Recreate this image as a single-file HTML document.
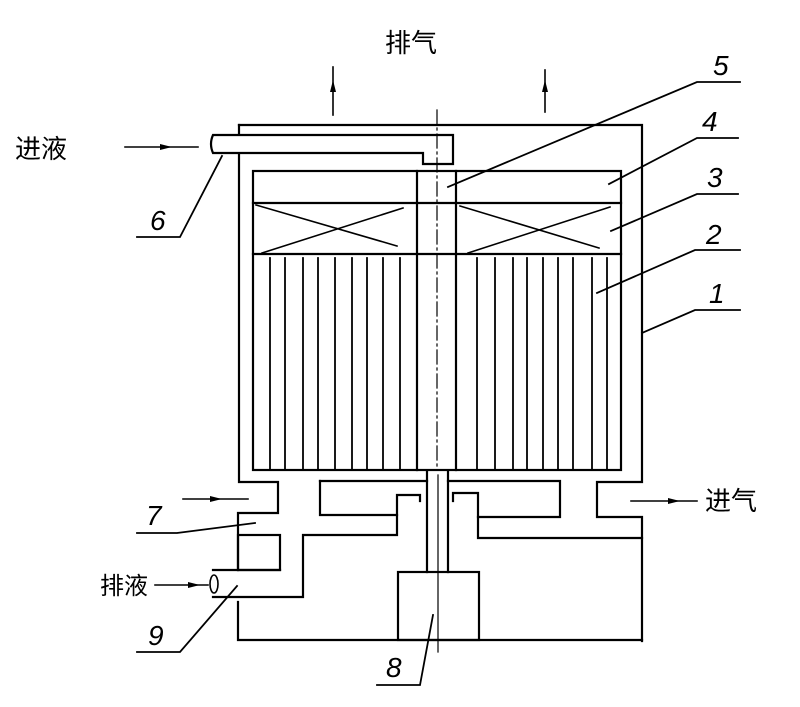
<!DOCTYPE html>
<html><head><meta charset="utf-8"><style>
html,body{margin:0;padding:0;background:#fff;width:800px;height:707px;overflow:hidden}
svg{display:block}
text{font-family:"Liberation Sans","Noto Sans CJK SC",sans-serif;fill:#000}
</style></head><body>
<svg width="800" height="707" viewBox="0 0 800 707" xmlns="http://www.w3.org/2000/svg">
<g stroke="#000" stroke-width="2.2" fill="none" stroke-linecap="square">
<!-- outer housing upper -->
<polyline points="239,125 642,125 642,482 597,482 597,517 642,517 642,641"/>
<polyline points="239,125 239,134"/>
<polyline points="239,155 239,482 278,482 278,513 238,513 238,570"/>
<rect x="238" y="535" width="42" height="35"/>
<polyline points="213,570 280,570"/>
<polyline points="238,602 238,640 642,640"/>
<!-- pipe 6 -->
<path d="M213,135 L453,135 L453,164 L423,164 L423,153 L213,153 Q209,144 213,135 Z"/>
<!-- inner box -->
<rect x="253" y="171" width="368" height="299"/>
<line x1="253" y1="203" x2="621" y2="203"/>
<line x1="253" y1="254" x2="621" y2="254"/>
<line x1="417" y1="171" x2="417" y2="470"/>
<line x1="456" y1="171" x2="456" y2="470"/>
<!-- X's -->
<g stroke-width="1.6">
<line x1="256" y1="205" x2="397" y2="246"/><line x1="262" y1="253" x2="403" y2="208"/>
<line x1="460" y1="206" x2="599" y2="248"/><line x1="468" y1="253" x2="610" y2="207"/>
</g>
<!-- fins -->
<g stroke-width="1.8">
<line x1="270" y1="258" x2="270" y2="470"/><line x1="285" y1="258" x2="285" y2="470"/>
<line x1="303" y1="258" x2="303" y2="470"/><line x1="318" y1="258" x2="318" y2="470"/>
<line x1="335" y1="258" x2="335" y2="470"/><line x1="352" y1="258" x2="352" y2="470"/>
<line x1="367" y1="258" x2="367" y2="470"/><line x1="383" y1="258" x2="383" y2="470"/>
<line x1="400" y1="258" x2="400" y2="470"/>
<line x1="477" y1="258" x2="477" y2="470"/><line x1="495" y1="258" x2="495" y2="470"/>
<line x1="513" y1="258" x2="513" y2="470"/><line x1="527" y1="258" x2="527" y2="470"/>
<line x1="543" y1="258" x2="543" y2="470"/><line x1="558" y1="258" x2="558" y2="470"/>
<line x1="573" y1="258" x2="573" y2="470"/><line x1="592" y1="258" x2="592" y2="470"/>
<line x1="607" y1="258" x2="607" y2="470"/>
</g>
<!-- centerline -->
<line x1="437" y1="110" x2="437" y2="470" stroke-width="1.2" stroke-dasharray="14,4,2,4"/>
<!-- lower middle -->
<polyline points="320,481 427,481"/>
<polyline points="448,481 560,481 560,517 478,517"/>
<polyline points="320,481 320,515 397,515 397,495 420,495 420,501"/>
<polyline points="453,501 453,493 478,493 478,538 642,538"/>
<polyline points="397,515 397,535 303,535 303,597 213,597"/>
<ellipse cx="214" cy="584" rx="4" ry="9" stroke-width="1.6"/>
<line x1="427" y1="472" x2="427" y2="572"/>
<line x1="448" y1="472" x2="448" y2="572"/>
<rect x="398" y="572" width="81" height="68"/>
<line x1="438" y1="475" x2="438" y2="652" stroke-width="1.2"/>
<!-- arrows -->
<line x1="333" y1="67" x2="333" y2="115" stroke-width="1.6"/>
<line x1="545" y1="70" x2="545" y2="112" stroke-width="1.6"/>
<line x1="125" y1="147" x2="198" y2="147" stroke-width="1.6"/>
<line x1="183" y1="499" x2="248" y2="499" stroke-width="1.6"/>
<line x1="631" y1="501" x2="697" y2="501" stroke-width="1.6"/>
<line x1="155" y1="585" x2="208" y2="585" stroke-width="1.6"/>
<!-- leaders -->
<g stroke-width="1.8">
<polyline points="740,82 697,82 448,187"/>
<polyline points="738,138 697,138 609,184"/>
<polyline points="738,194 697,194 611,231"/>
<polyline points="740,250 695,250 597,293"/>
<polyline points="740,310 695,310 642,333"/>
<polyline points="222,156 180,237 137,237"/>
<polyline points="255,523 177,533 137,533"/>
<polyline points="237,586 180,652 137,652"/>
<polyline points="433,615 420,685 377,685"/>
</g>
</g>
<g fill="#000">
<polygon points="333,80 330,92 336,92"/><polygon points="545,80 542,92 548,92"/>
<polygon points="172,147 160,144 160,150"/><polygon points="222,499 210,496 210,502"/>
<polygon points="680,501 668,498 668,504"/><polygon points="200,585 188,582 188,588"/>
</g>
<g font-size="28" font-style="italic">
<text x="713" y="75">5</text><text x="702" y="131">4</text><text x="707" y="187">3</text>
<text x="706" y="244">2</text><text x="709" y="303">1</text>
<text x="150" y="230">6</text><text x="146" y="525">7</text><text x="148" y="645">9</text><text x="386" y="677">8</text>
</g>
<g font-size="26">
<text x="385" y="52">排气</text>
<text x="15" y="158">进液</text>
<text x="705" y="510">进气</text>
<text x="100" y="594" font-size="24">排液</text>
</g>
</svg>
</body></html>
